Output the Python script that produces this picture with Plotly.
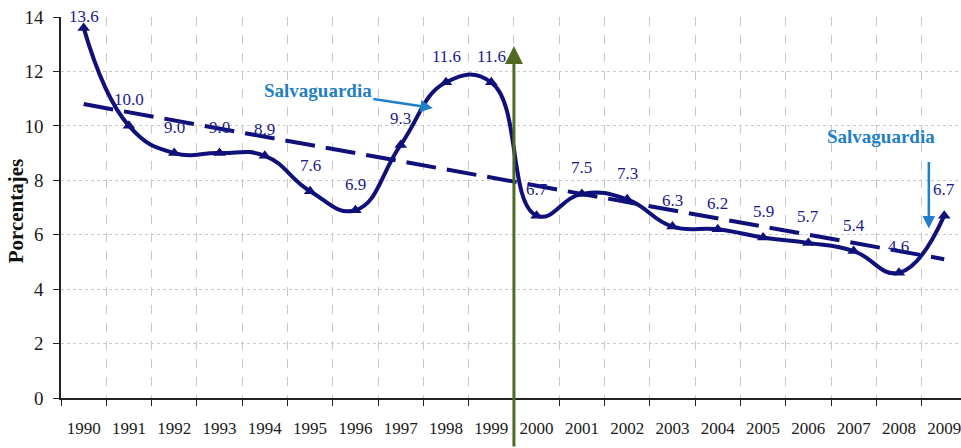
import plotly.graph_objects as go

years = [str(y) for y in range(1990, 2010)]
values = [13.6, 10.0, 9.0, 9.0, 8.9, 7.6, 6.9, 9.3, 11.6, 11.6,
          6.7, 7.5, 7.3, 6.3, 6.2, 5.9, 5.7, 5.4, 4.6, 6.7]
labels = ["13.6", "10.0", "9.0", "9.0", "8.9", "7.6", "6.9", "9.3", "11.6", "11.6",
          "6.7", "7.5", "7.3", "6.3", "6.2", "5.9", "5.7", "5.4", "4.6", "6.7"]
trend_years = ["1990", "2009"]
trend_values = [10.8, 5.1]
y_ticks = [0, 2, 4, 6, 8, 10, 12, 14]

NAVY = "#10107a"
BLUE = "#1f7fc8"
GREEN = "#4f6b22"
SERIF = "Liberation Serif, Times New Roman, DejaVu Serif, serif"

fig = go.Figure()

fig.add_trace(go.Scatter(
    x=years, y=values, mode="lines+markers",
    line=dict(color=NAVY, width=4, shape="spline", smoothing=1.3),
    marker=dict(symbol="triangle-up", size=11, color=NAVY),
    showlegend=False))

fig.add_trace(go.Scatter(
    x=trend_years, y=trend_values, mode="lines",
    line=dict(color=NAVY, width=4, dash="30px,11px"),
    hoverinfo="skip", showlegend=False))

annotations = []
for i, (v, lab) in enumerate(zip(values, labels)):
    shift = 11 if i == 0 else 26
    annotations.append(dict(x=i, y=v, xref="x", yref="y", text=lab, showarrow=False,
                            yshift=shift,
                            font=dict(family=SERIF, size=17, color="#1a1a8c")))

# green vertical arrow between 1999 and 2000
annotations.append(dict(x=9.5, y=12.93, xref="x", yref="y", text="", showarrow=True,
                        ax=0, ay=410, axref="pixel", ayref="pixel",
                        arrowhead=2, arrowsize=1.2, arrowwidth=3, arrowcolor=GREEN))

# left Salvaguardia
annotations.append(dict(x=7.71, y=10.66, xref="x", yref="y", text="<b>Salvaguardia</b>",
                        showarrow=True, ax=-115, ay=-17, arrowhead=2, arrowsize=1,
                        arrowwidth=2.5, arrowcolor=BLUE,
                        font=dict(family=SERIF, size=19, color=BLUE)))

# right Salvaguardia text
annotations.append(dict(x=17.6, y=9.6, xref="x", yref="y", text="<b>Salvaguardia</b>",
                        showarrow=False, font=dict(family=SERIF, size=19, color=BLUE)))
# right vertical arrow
annotations.append(dict(x=18.66, y=6.23, xref="x", yref="y", text="", showarrow=True,
                        ax=0, ay=-68, arrowhead=2, arrowsize=1, arrowwidth=2.5,
                        arrowcolor=BLUE))

# y title
annotations.append(dict(x=0, y=0.49, xref="paper", yref="paper", xshift=-45,
                        xanchor="center", yanchor="middle",
                        text="<b>Porcentajes</b>", textangle=-90, showarrow=False,
                        font=dict(family=SERIF, size=21, color="#111111")))

fig.update_layout(
    width=961, height=448,
    margin=dict(l=61, r=0, t=17, b=50, autoexpand=False),
    paper_bgcolor="white", plot_bgcolor="white",
    annotations=annotations,
    xaxis=dict(type="category", categoryorder="array", categoryarray=years,
               range=[-0.5, 19.37], tickson="boundaries", automargin=False,
               showline=True, linecolor="#222222", linewidth=1.5,
               ticks="outside", ticklen=6, tickcolor="#222222",
               showgrid=True, gridcolor="#c8c8c8", griddash="dash", gridwidth=1,
               ticklabelstandoff=14, ticklabeloverflow="allow",
               tickfont=dict(family=SERIF, size=17, color="#1a1a1a")),
    yaxis=dict(range=[0, 14], tickvals=y_ticks, showline=True, linecolor="#222222",
               linewidth=1.5, ticks="outside", ticklen=6, tickcolor="#222222",
               showgrid=True, gridcolor="#c8c8c8", griddash="dot", gridwidth=1,
               zeroline=False, ticklabelstandoff=6, automargin=False,
               ticklabeloverflow="allow",
               tickfont=dict(family=SERIF, size=19, color="#1a1a1a")),
)

fig.write_html("out.html", config={"displayModeBar": False},
               post_script="document.body.style.margin='0';document.body.style.overflow='hidden';")
